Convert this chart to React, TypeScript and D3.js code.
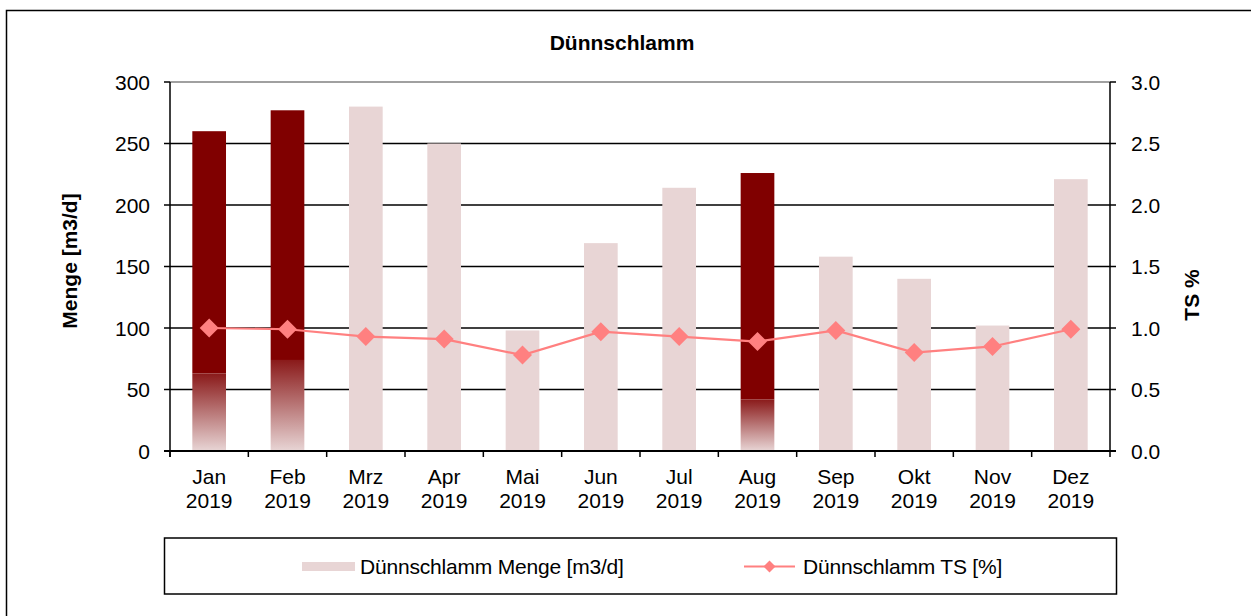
import React from "react";
import * as d3 from "d3";

const months = ["Jan", "Feb", "Mrz", "Apr", "Mai", "Jun", "Jul", "Aug", "Sep", "Okt", "Nov", "Dez"];
const yearLabel = "2019";
const menge = [260, 277, 280, 250, 98, 169, 214, 226, 158, 140, 102, 221];
const highlighted = [true, true, false, false, false, false, false, true, false, false, false, false];
const fadeTop = [63, 74, 0, 0, 0, 0, 0, 42, 0, 0, 0, 0];
const ts = [1.0, 0.99, 0.93, 0.91, 0.78, 0.97, 0.93, 0.89, 0.98, 0.8, 0.85, 0.99];
const leftTicks = [0, 50, 100, 150, 200, 250, 300];
const rightTicks = [0, 0.5, 1.0, 1.5, 2.0, 2.5, 3.0];

const W = 1251;
const H = 616;
const plot = { left: 170, right: 1110, top: 82, bottom: 451 };
const FONT = "'Liberation Sans', Arial, sans-serif";
const FS = 21;
const pale = "#E8D5D5";
const dark = "#800000";
const lineColor = "#FF8080";

export default function App() {
  const x = d3.scaleBand<string>().domain(months).range([plot.left, plot.right]).paddingInner(0).paddingOuter(0);
  const yL = d3.scaleLinear().domain([0, 300]).range([plot.bottom, plot.top]);
  const yR = d3.scaleLinear().domain([0, 3]).range([plot.bottom, plot.top]);
  const bw = x.bandwidth() * 0.43;
  const cx = (m: string) => (x(m) as number) + x.bandwidth() / 2;
  const line = d3
    .line<number>()
    .x((_, i) => cx(months[i]))
    .y((d) => yR(d));
  const diamond = (px: number, py: number, r: number) =>
    `M${px},${py - r}L${px + r},${py}L${px},${py + r}L${px - r},${py}Z`;

  return (
    <svg width={W} height={H} style={{ position: "absolute", left: 0, top: 0, fontFamily: FONT }}>
      <defs>
        <linearGradient id="fade" x1="0" y1="0" x2="0" y2="1">
          <stop offset="0" stopColor="#8a1a1a" />
          <stop offset="1" stopColor={pale} />
        </linearGradient>
      </defs>
      <rect x={0} y={0} width={W} height={H} fill="#fff" />
      <rect x={6.5} y={10.5} width={W + 20} height={H + 20} fill="none" stroke="#000" strokeWidth={1.5} />
      <text x={622} y={50} textAnchor="middle" fontSize={FS} fontWeight="bold">
        Dünnschlamm
      </text>
      {/* gridlines */}
      {leftTicks.map((t) => (
        <line
          key={"g" + t}
          x1={plot.left}
          x2={plot.right}
          y1={yL(t)}
          y2={yL(t)}
          stroke={t === 300 ? "#808080" : "#000"}
          strokeWidth={1.5}
        />
      ))}
      {/* bars */}
      {months.map((m, i) => {
        const bx = cx(m) - bw / 2;
        if (!highlighted[i]) {
          return <rect key={m} x={bx} y={yL(menge[i])} width={bw} height={yL(0) - yL(menge[i])} fill={pale} />;
        }
        return (
          <g key={m}>
            <rect x={bx} y={yL(menge[i])} width={bw} height={yL(fadeTop[i]) - yL(menge[i])} fill={dark} />
            <rect x={bx} y={yL(fadeTop[i])} width={bw} height={yL(0) - yL(fadeTop[i])} fill="url(#fade)" />
          </g>
        );
      })}
      {/* line */}
      <path d={line(ts) as string} fill="none" stroke={lineColor} strokeWidth={2.2} />
      {ts.map((v, i) => (
        <path key={"d" + i} d={diamond(cx(months[i]), yR(v), 9.5)} fill={lineColor} />
      ))}
      {/* axes */}
      <line x1={plot.left} x2={plot.left} y1={plot.top} y2={plot.bottom + 6} stroke="#000" strokeWidth={1.5} />
      <line x1={plot.right} x2={plot.right} y1={plot.top} y2={plot.bottom + 6} stroke="#000" strokeWidth={1.5} />
      <line x1={plot.left - 6} x2={plot.right + 6} y1={plot.bottom} y2={plot.bottom} stroke="#000" strokeWidth={2} />
      {leftTicks.map((t) => (
        <g key={"l" + t}>
          <line x1={plot.left - 6} x2={plot.left} y1={yL(t)} y2={yL(t)} stroke="#000" strokeWidth={1.5} />
          <text x={150} y={yL(t) + 7.5} textAnchor="end" fontSize={FS}>
            {t}
          </text>
        </g>
      ))}
      {rightTicks.map((t) => (
        <g key={"r" + t}>
          <line x1={plot.right} x2={plot.right + 6} y1={yR(t)} y2={yR(t)} stroke="#000" strokeWidth={1.5} />
          <text x={1131} y={yR(t) + 7.5} textAnchor="start" fontSize={FS}>
            {t.toFixed(1)}
          </text>
        </g>
      ))}
      {months.map((m) => (
        <g key={"x" + m}>
          <line x1={x(m) as number} x2={x(m) as number} y1={plot.bottom} y2={plot.bottom + 6} stroke="#000" strokeWidth={1.5} />
          <text x={cx(m)} y={484} textAnchor="middle" fontSize={FS}>
            {m}
          </text>
          <text x={cx(m)} y={508} textAnchor="middle" fontSize={FS}>
            {yearLabel}
          </text>
        </g>
      ))}
      <text transform={`translate(77,261) rotate(-90)`} textAnchor="middle" fontSize={FS} fontWeight="bold">
        Menge [m3/d]
      </text>
      <text transform={`translate(1199,295) rotate(-90)`} textAnchor="middle" fontSize={FS} fontWeight="bold">
        TS %
      </text>
      {/* legend */}
      <rect x={164.5} y={538} width={952} height={56} fill="none" stroke="#000" strokeWidth={1.5} />
      <rect x={302} y={562} width={53} height={9} fill={pale} />
      <text x={360} y={574} fontSize={FS} letterSpacing={-0.2}>
        Dünnschlamm Menge [m3/d]
      </text>
      <line x1={744} x2={795} y1={566.5} y2={566.5} stroke={lineColor} strokeWidth={2} />
      <path d={diamond(769.5, 566.5, 6)} fill={lineColor} />
      <text x={803} y={574} fontSize={FS} letterSpacing={-0.2}>
        Dünnschlamm TS [%]
      </text>
    </svg>
  );
}
